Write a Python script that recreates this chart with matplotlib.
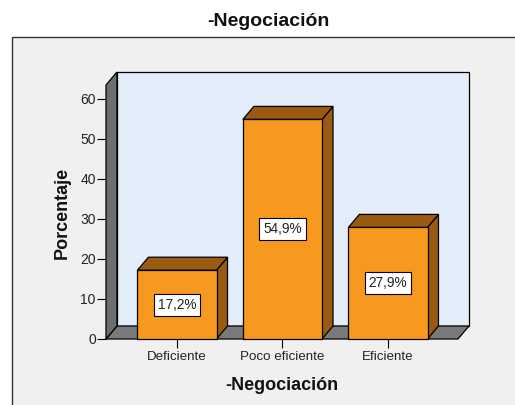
import matplotlib.pyplot as plt
from matplotlib.patches import Polygon, Rectangle

categories = ["Deficiente", "Poco eficiente", "Eficiente"]
percentages = [17.2, 54.9, 27.9]
bar_labels = ["17,2%", "54,9%", "27,9%"]
y_ticks = [0, 10, 20, 30, 40, 50, 60]

FRONT = "#f7981f"
SHADE = "#9a5a10"
WALL = "#e3eefa"
FLOOR = "#7a7a7a"
SIDE = "#6e6e6e"
FRAME_BG = "#f0f0f0"
TXT = "#222222"

W, H = 515, 405
XLIM = (-0.673, 2.664)
YTOP = 63.5
DX, DY = 0.104, 3.25   # depth offset in data units
BAR_W = 0.75

plt.rcParams["font.family"] = ["Liberation Sans", "DejaVu Sans"]

fig = plt.figure(figsize=(W / 100, H / 100), dpi=100)
fig.patch.set_facecolor("white")

# outer chart frame (grey panel), kept behind the axes
fig.patches.append(Rectangle((12 / W, -0.1), 1.2, (H - 37) / H + 0.1,
                             transform=fig.transFigure, facecolor=FRAME_BG,
                             edgecolor="#333333", lw=1.0, zorder=-10))

ax = fig.add_axes([106 / W, (H - 339) / H, 352 / W, (339 - 85) / H])
ax.set_zorder(5)
ax.set_xlim(*XLIM)
ax.set_ylim(0, YTOP)
ax.patch.set_visible(False)
for s in ax.spines.values():
    s.set_visible(False)

xl, xr = XLIM
ek = dict(edgecolor="black", lw=0.9, clip_on=False, joinstyle="miter")

# back wall, floor and left wall
ax.add_patch(Polygon([(xl + DX, DY), (xr + DX, DY), (xr + DX, YTOP + DY), (xl + DX, YTOP + DY)],
                     facecolor=WALL, zorder=1, **ek))
ax.add_patch(Polygon([(xl, 0), (xr, 0), (xr + DX, DY), (xl + DX, DY)],
                     facecolor=FLOOR, zorder=2, **ek))
ax.add_patch(Polygon([(xl, 0), (xl + DX, DY), (xl + DX, YTOP + DY), (xl, YTOP)],
                     facecolor=SIDE, zorder=2, **ek))

for i, (h, lab) in enumerate(zip(percentages, bar_labels)):
    x0, x1 = i - BAR_W / 2, i + BAR_W / 2
    ax.add_patch(Polygon([(x1, 0), (x1 + DX, DY), (x1 + DX, h + DY), (x1, h)],
                         facecolor=SHADE, zorder=3, **ek))
    ax.add_patch(Polygon([(x0, h), (x1, h), (x1 + DX, h + DY), (x0 + DX, h + DY)],
                         facecolor=SHADE, zorder=3, **ek))
    ax.add_patch(Rectangle((x0, 0), BAR_W, h, facecolor=FRONT, zorder=4, **ek))
    ax.text(i, h / 2, lab, ha="center", va="center", fontsize=9.8, color=TXT, zorder=5,
            bbox=dict(boxstyle="square,pad=0.3", facecolor="white",
                      edgecolor="black", lw=0.8))

ax.set_yticks(y_ticks)
ax.set_xticks(range(len(categories)))
ax.set_xticklabels(categories)
ax.tick_params(axis="y", length=6.5, width=0.8, pad=0.8, labelsize=10,
               color="black", labelcolor=TXT)
ax.tick_params(axis="x", length=6.5, width=0.8, pad=2.5, labelsize=9.6,
               color="black", labelcolor=TXT)

fig.text(268 / W, 1 - 22 / H, "-Negociación", ha="center", va="center",
         fontsize=14, fontweight="bold", color="#111111")
fig.text(282 / W, 1 - 385 / H, "-Negociación", ha="center", va="center",
         fontsize=13, fontweight="bold", color="#111111")
fig.text(62 / W, 1 - 213 / H, "Porcentaje", ha="center", va="center",
         rotation=90, fontsize=13, fontweight="bold", color="#111111")

fig.savefig("out.png", dpi=100)
